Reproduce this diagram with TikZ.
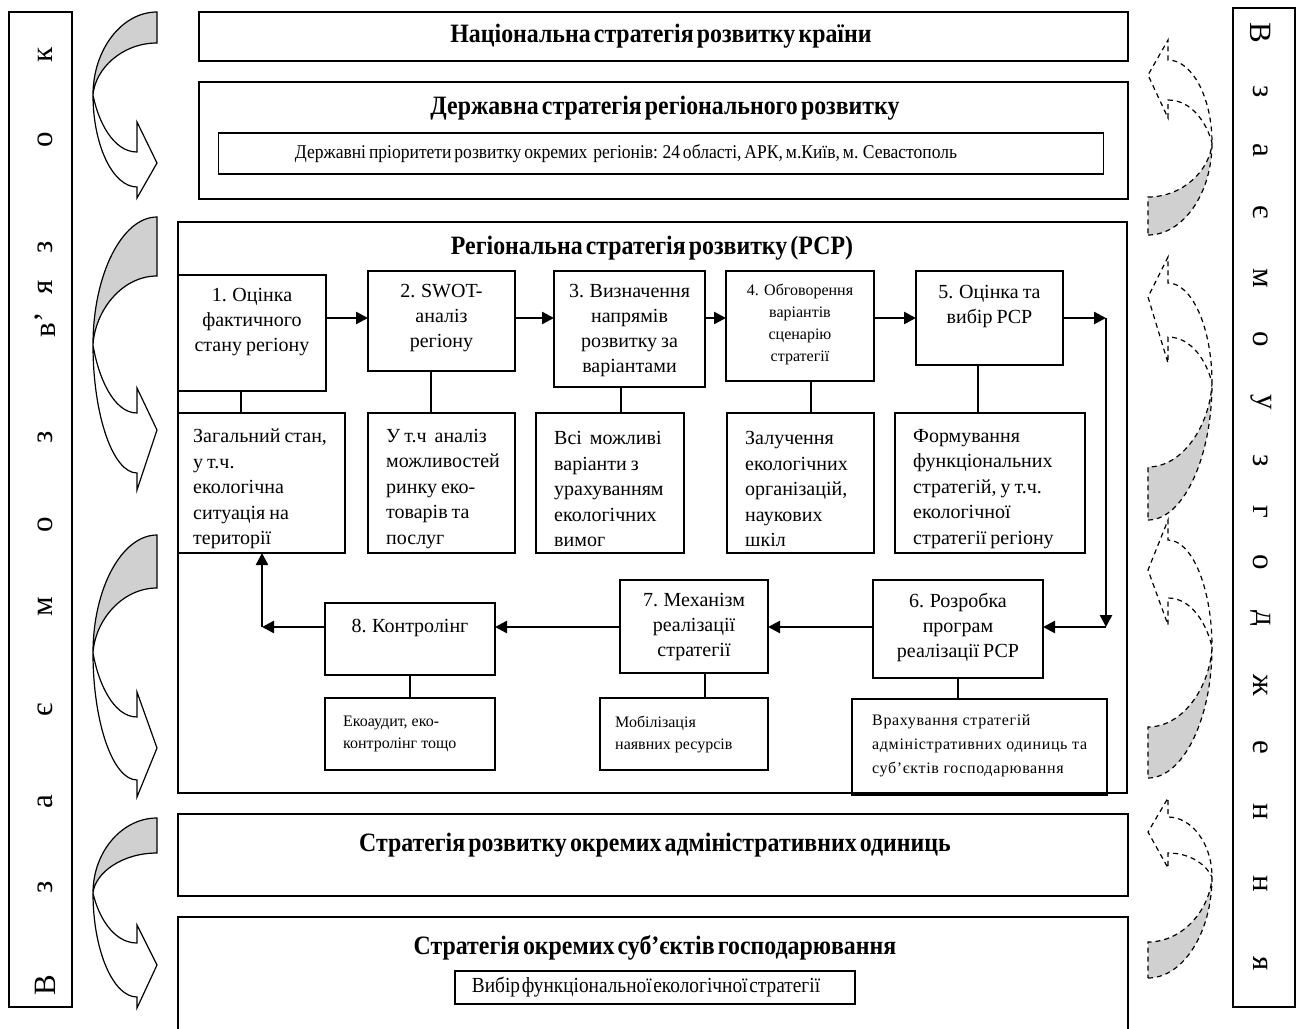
\documentclass[tikz,border=0pt]{standalone}
\usepackage{fontspec}
\setmainfont{Liberation Serif}
\newfontfamily\condfont[FakeStretch=0.9]{Liberation Serif}
\usetikzlibrary{arrows.meta}
\definecolor{shadegray}{RGB}{208,208,208}
\newcommand{\tighttitle}{\spaceskip 0.12em\relax}
\newcommand{\tightsub}{\spaceskip 0.15em\relax}
\newcommand{\tightbody}{\spaceskip 0.2em plus 0.1em\relax}
\newcommand{\tightmin}{\spaceskip 0.08em\relax}
% #1 style, #2 top, #3 gray inner start, #4 meet, #5 upper barb, #6 inner end, #7 tip, #8 outer end, #9 lower barb
\newcommand{\CurveArrow}[9]{%
  \fill[shadegray] (157,#2) .. controls (122,#2) and (93,{#4-0.55*(#4-#2)}) .. (93,#4)
     .. controls (95,{#4-0.5*(#4-#3)}) and (122,#3) .. (157,#3) -- cycle;
  \draw[#1] (157,#2) .. controls (122,#2) and (93,{#4-0.55*(#4-#2)}) .. (93,#4)
     .. controls (93,{#4+0.55*(#8-#4)}) and (113,#8) .. (137,#8)
     -- (137,#9) -- (157,#7) -- (137,#5) -- (137,#6)
     .. controls (113,#6) and (98,{#4+0.45*(#6-#4)}) .. (93,#4)
     .. controls (95,{#4-0.5*(#4-#3)}) and (122,#3) .. (157,#3) -- cycle;
}
\tikzset{
  box/.style={draw, line width=1.3pt, outer sep=0pt, inner sep=0pt},
  heavybox/.style={draw, line width=2.8pt, outer sep=0pt, inner sep=0pt},
  title/.style={font={\condfont\bfseries\fontsize{26.5}{30}\selectfont\tighttitle}, inner sep=0pt},
  subtitle/.style={font={\condfont\fontsize{19.5}{22}\selectfont\tightsub}, inner sep=0pt},
  choicetext/.style={font={\condfont\fontsize{21.5}{24}\selectfont\tightmin}, inner sep=0pt},
  body/.style={font={\fontsize{20}{25}\selectfont\tightbody}, inner sep=0pt},
  detailtext/.style={font={\fontsize{20}{25.5}\selectfont\tightbody}, inner sep=0pt, align=left, anchor=west},
  small/.style={font={\fontsize{16}{22}\selectfont}, inner sep=0pt},
  spaced/.style={font={\addfontfeature{LetterSpace=4}\fontsize{16}{24}\selectfont}, inner sep=0pt},
  side/.style={font={\fontsize{31}{31}\selectfont}, inner sep=0pt},
  conn/.style={line width=1.3pt},
  flow/.style={line width=2.5pt, -{Triangle[length=12pt,width=12pt]}},
  solidcurve/.style={line width=1.2pt, line join=miter},
  dashcurve/.style={line width=1.2pt, dash pattern=on 5pt off 4pt},
}
\begin{document}
\begin{tikzpicture}[x=1pt,y=-1pt]
\useasboundingbox (0,0) rectangle (1298,1028);

% side boxes
\node[box, minimum width=63, minimum height=995] (L) at (40.5,509.5) {};
\node[box, minimum width=62, minimum height=999] (R) at (1264,507.5) {};
\foreach \ch/\yy [count=\i] in {В/985, з/887, а/802, є/710, м/607, о/525, з/437, в’/325, я/287, з/247, о/140, к/55}
  \node[side, rotate=90] (L\i) at (45,\yy) {\ch};
\foreach \ch/\yy [count=\i] in {В/33, з/92, а/150, є/212, м/278, о/339, у/402, з/461, г/512, о/562, д/618, ж/685, е/747, н/812, н/884, я/964}
  \node[side, rotate=-90] (R\i) at (1261,\yy) {\ch};

% curved arrows, left
\CurveArrow{solidcurve}{12}{43}{95}{122}{152}{163}{187}{198}
\CurveArrow{solidcurve}{217}{276}{345}{388}{413}{430}{473}{490}
\CurveArrow{solidcurve}{535}{588}{653}{692}{717}{748}{780}{797}
\CurveArrow{solidcurve}{818}{853}{893}{925}{943}{965}{997}{1008}
% curved arrows, right (dashed, turned half round)
\begin{scope}[rotate around={180:(652.5,500)}]
\CurveArrow{dashcurve}{765}{803}{857}{882}{900}{925}{940}{960}
\CurveArrow{dashcurve}{480}{533}{617}{637}{663}{703}{717}{743}
\CurveArrow{dashcurve}{222}{273}{353}{375}{402}{430}{460}{480}
\CurveArrow{dashcurve}{22}{58}{123}{132}{147}{168}{183}{202}
\end{scope}

% top boxes
\node[box, minimum width=929, minimum height=49] (N1) at (663.5,36.5) {};
\node[title] (N1t) at (661,36) {Національна стратегія розвитку країни};
\node[box, minimum width=929, minimum height=117] (N2) at (663.5,140.5) {};
\node[title] (N2t) at (665,108) {Державна стратегія регіонального розвитку};
\node[box, minimum width=885, minimum height=41] (D) at (661,153.5) {};
\node[subtitle] (Dt) at (626,154) {Державні пріоритети розвитку окремих\ \ регіонів: 24 області, АРК, м.Київ, м. Севастополь};

% regional strategy
\node[box, minimum width=949, minimum height=571] (RSR) at (652.5,507.5) {};
\node[title] (RSRt) at (652,248) {Регіональна стратегія розвитку (РСР)};

\node[box, minimum width=148, minimum height=116] (s1) at (252,333) {};
\node[box, minimum width=147, minimum height=100] (s2) at (441.5,321) {};
\node[box, minimum width=151, minimum height=116] (s3) at (629.5,329) {};
\node[box, minimum width=148, minimum height=110] (s4) at (800,326) {};
\node[box, minimum width=147, minimum height=94] (s5) at (989.5,318) {};
\node[body, align=center] (s1t) at (252,322.5) {1. Оцінка\\фактичного\\стану регіону};
\node[body, align=center] (s2t) at (441.5,318) {2. SWOT-\\аналіз\\регіону};
\node[body, align=center] (s3t) at (629.5,331) {3. Визначення\\напрямів\\розвитку за\\варіантами};
\node[small, align=center] (s4t) at (800,324.5) {4. Обговорення\\варіантів\\сценарію\\стратегії};
\node[body, align=center] (s5t) at (989.5,307) {5. Оцінка та\\вибір РСР};

\node[heavybox, minimum width=167, minimum height=140] (da) at (261.5,483) {};
\node[heavybox, minimum width=147, minimum height=140] (db) at (441.5,483) {};
\node[heavybox, minimum width=148, minimum height=140] (dc) at (610,483) {};
\node[heavybox, minimum width=147, minimum height=140] (dd) at (800.5,483) {};
\node[heavybox, minimum width=190, minimum height=140] (de) at (990,483) {};
\node[detailtext] (dat) at (193,489) {Загальний стан,\\у т.ч.\\екологічна\\ситуація на\\території};
\node[detailtext] (dbt) at (386,489) {У т.ч\ \ аналіз\\можливостей\\ринку еко-\\товарів та\\послуг};
\node[detailtext] (dct) at (554,489) {Всі\ \ можливі\\варіанти з\\урахуванням\\екологічних\\вимог};
\node[detailtext] (ddt) at (745,489) {Залучення\\екологічних\\організацій,\\наукових\\шкіл};
\node[detailtext] (det) at (913,489) {Формування\\функціональних\\стратегій, у т.ч.\\екологічної\\стратегії регіону};

\node[box, minimum width=170, minimum height=98] (s6) at (958,629) {};
\node[box, minimum width=148, minimum height=93] (s7) at (694,626.5) {};
\node[box, minimum width=170, minimum height=72] (s8) at (410,639) {};
\node[body, align=center] (s6t) at (958,627) {6. Розробка\\програм\\реалізації РСР};
\node[body, align=center] (s7t) at (694,627) {7. Механізм\\реалізації\\стратегії};
\node[body, align=center] (s8t) at (410,628) {8. Контролінг};

\node[heavybox, minimum width=170, minimum height=72] (e8) at (410,734) {};
\node[heavybox, minimum width=168, minimum height=72] (e7) at (684,734) {};
\node[heavybox, minimum width=255, minimum height=96] (e6) at (979.5,747) {};
\node[small, align=left, anchor=west] (e8t) at (343,734) {Екоаудит, еко-\\контролінг тощо};
\node[small, align=left, anchor=west] (e7t) at (615,734) {Мобілізація\\наявних ресурсів};
\node[spaced, align=left, anchor=west] (e6t) at (872,746) {Врахування стратегій\\адміністративних одиниць та\\суб’єктів господарювання};

% connectors
\coordinate (rowA) at (0,318);
\draw[flow] (s1.east |- rowA) -- (s2.west |- rowA);
\draw[flow] (s2.east |- rowA) -- (s3.west |- rowA);
\draw[flow] (s3.east |- rowA) -- (s4.west |- rowA);
\draw[flow] (s4.east |- rowA) -- (s5.west |- rowA);
\coordinate (c1) at (1106,318);
\coordinate (c2) at (1106,627);
\coordinate (c3) at (262,627);
\draw[flow] (s5.east |- rowA) -- (c1);
\draw[flow] (c1) -- (c2);
\draw[flow] (c2) -- (s6.east |- c2);
\draw[flow] (s6.west |- c2) -- (s7.east |- c2);
\draw[flow] (s7.west |- c2) -- (s8.east |- c2);
\draw[flow] (s8.west |- c2) -- (c3);
\draw[flow] (c3) -- (c3 |- da.south);

\draw[conn] (241,0 |- s1.south) -- (241,0 |- da.north);
\draw[conn] (431,0 |- s2.south) -- (431,0 |- db.north);
\draw[conn] (621,0 |- s3.south) -- (621,0 |- dc.north);
\draw[conn] (811,0 |- s4.south) -- (811,0 |- dd.north);
\draw[conn] (978,0 |- s5.south) -- (978,0 |- de.north);
\draw[conn] (410,0 |- s8.south) -- (410,0 |- e8.north);
\draw[conn] (705,0 |- s7.south) -- (705,0 |- e7.north);
\draw[conn] (958,0 |- s6.south) -- (958,0 |- e6.north);

% lower boxes
\node[box, minimum width=950, minimum height=82] (A) at (653,855) {};
\node[title] (At) at (655,845) {Стратегія розвитку окремих адміністративних одиниць};
\node[box, minimum width=950, minimum height=122] (S) at (653,978) {};
\node[title] (St) at (655,948) {Стратегія окремих суб’єктів господарювання};
\node[heavybox, minimum width=400, minimum height=33] (V) at (655,987.5) {};
\node[choicetext] (Vt) at (646,987) {Вибір функціональної екологічної стратегії};
\end{tikzpicture}
\end{document}
